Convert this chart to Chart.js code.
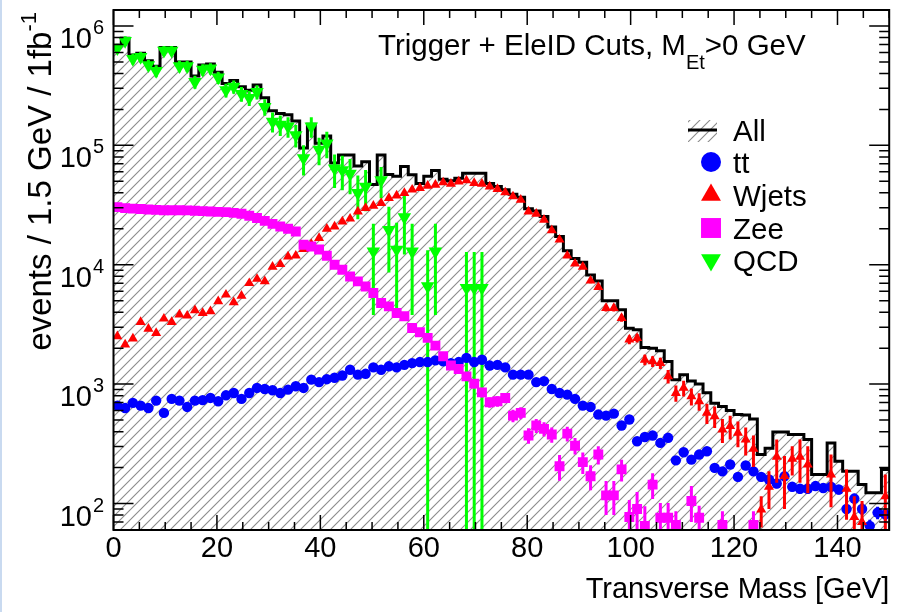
<!DOCTYPE html>
<html>
<head>
<meta charset="utf-8">
<script src="https://cdn.jsdelivr.net/npm/chart.js@4.4.1/dist/chart.umd.min.js"></script>
<style>
  html, body { margin: 0; padding: 0; background: #fff; }
  #wrap { width: 897px; height: 612px; }
</style>
</head>
<body>
<div id="wrap"><canvas id="c" width="897" height="612"></canvas></div>
<script>
// 100 bins of 1.5 GeV from 0 to 150 GeV
const binWidth = 1.5;
const xTickValues = [0, 20, 40, 60, 80, 100, 120, 140];
const yTickExponents = [2, 3, 4, 5, 6];

const allEvents = [
  690000, 790000, 570000, 590000, 510000, 460000, 660000, 660000, 500000, 500000,
  380000, 470000, 480000, 410000, 330000, 350000, 310000, 290000, 320000, 250000,
  195000, 185000, 180000, 160000, 95000, 150000, 104000, 120000, 71000, 83000,
  83000, 67000, 73000, 47000, 83000, 57000, 55000, 66500, 56700, 48000,
  55000, 61500, 52000, 50500, 53000, 58500, 58500, 58500, 48000, 45200,
  42400, 39000, 36800, 29500, 28200, 25300, 20700, 17200, 13100, 11300,
  10500, 8200, 7300, 5000, 5000, 4200, 2940, 2850, 2030, 2000,
  1900, 1550, 1090, 1200, 1060, 1000, 845, 690, 650, 600,
  556, 551, 510, 257, 290, 398, 398, 378, 378, 343,
  175, 175, 322, 226, 186, 186, 144, 123, 123, 193
];

const ttEvents = [
  661, 631, 696, 661, 631, 728, 574, 752, 728, 644,
  728, 734, 766, 718, 806, 843, 752, 843, 929, 911,
  888, 843, 899, 959, 929, 1090, 1040, 1100, 1130, 1180,
  1320, 1200, 1220, 1380, 1320, 1410, 1380, 1450, 1500, 1530,
  1530, 1580, 1550, 1500, 1530, 1660, 1530, 1600, 1430, 1450,
  1380, 1200, 1200, 1200, 1040, 1060, 911, 843, 817, 752,
  661, 644, 556, 545, 566, 450, 505, 332, 361, 371,
  322, 355, 230, 269, 233, 257, 274, 199, 186, 212,
  167, 208, 186, 167, 159, 147, 169, 138, 133, 133,
  140, 135, 138, 131, 90, 110, 90, 65, 84, 81
];
const ttErr = [
  0, 0, 0, 0, 0, 0, 0, 0, 0, 0,
  0, 0, 0, 0, 0, 0, 0, 0, 0, 0,
  0, 0, 0, 0, 0, 0, 0, 0, 0, 0,
  0, 0, 0, 0, 0, 0, 0, 0, 0, 0,
  0, 0, 0, 0, 0, 0, 0, 0, 0, 0,
  0, 0, 0, 0, 0, 0, 0, 0, 0, 0,
  30, 30, 28, 28, 28, 25, 26, 20, 21, 21,
  20, 21, 17, 18, 17, 18, 18, 16, 15, 16,
  14, 15, 14, 14, 13, 13, 14, 12, 12, 12,
  13, 12, 12, 12, 10, 11, 10, 8, 10, 9
];

const wjetsEvents = [
  2510, 2140, 2410, 3310, 2910, 2680, 3530, 3310, 3820, 3740,
  4150, 3940, 4070, 4930, 5610, 4840, 5500, 7000, 7600, 7250,
  9600, 10100, 11700, 11900, 13500, 14900, 16700, 20000, 20900, 23000,
  24300, 27900, 29800, 31200, 32800, 36100, 38000, 39800, 42500, 43900,
  45800, 46700, 48900, 47600, 49800, 50800, 48300, 47600, 45200, 43000,
  40300, 37300, 35000, 27900, 26700, 23800, 19400, 16200, 11900, 10200,
  9600, 7350, 6500, 4340, 4340, 3580, 2360, 2430, 1600, 1550,
  1500, 1160, 843, 929, 791, 718, 574, 538, 416, 444,
  391, 343, 287, 89, 138, 246, 170, 237, 246, 212,
  null, null, 175, null, 133, 77, 70, null, null, 115
];
const wjetsErr = [
  0, 0, 0, 0, 0, 0, 0, 0, 0, 0,
  0, 0, 0, 0, 0, 0, 0, 0, 0, 0,
  0, 0, 0, 0, 0, 0, 0, 0, 0, 0,
  0, 0, 0, 0, 0, 0, 0, 0, 0, 0,
  0, 0, 0, 0, 0, 0, 0, 0, 0, 0,
  0, 0, 0, 0, 0, 0, 0, 0, 0, 0,
  400, 350, 330, 280, 280, 250, 200, 200, 160, 160,
  160, 150, 130, 140, 130, 120, 110, 110, 95, 100,
  95, 90, 85, 26, 48, 97, 80, 65, 97, 90,
  0, 0, 82, 0, 60, 38, 35, 0, 0, 60
];

const zeeEvents = [
  30400, 29800, 29500, 29300, 29000, 28800, 28600, 28600, 28600, 28500,
  28300, 28100, 27900, 27700, 27600, 27200, 26700, 25700, 24600, 23300,
  22000, 20900, 20000, 19000, 14700, 14200, 13400, 11900, 10000, 9080,
  7980, 7250, 6580, 5790, 4780, 4480, 3940, 3700, 2950, 2720,
  2440, 2100, 1710, 1430, 1340, 1160, 1010, 853, 704, 718,
  766, 545, 574, 371, 450, 422, 378, 205, 385, 305,
  222, 169, 257, 117, 117, 193, 77, 90, 65, 144,
  76, 76, 66, null, 105, 76, null, null, 66, null,
  null, null, 66, null, null, null, null, null, null, null,
  null, null, null, null, null, null, null, null, null, null
];
const zeeErr = [
  0, 0, 0, 0, 0, 0, 0, 0, 0, 0,
  0, 0, 0, 0, 0, 0, 0, 0, 0, 0,
  0, 0, 0, 0, 0, 0, 0, 0, 0, 0,
  0, 0, 0, 0, 0, 0, 0, 0, 0, 0,
  150, 140, 120, 110, 105, 95, 90, 80, 70, 72,
  75, 65, 66, 55, 60, 58, 55, 50, 55, 48,
  45, 40, 45, 37, 37, 40, 30, 35, 30, 35,
  25, 25, 20, 0, 35, 20, 0, 0, 20, 0,
  0, 0, 20, 0, 0, 0, 0, 0, 0, 0,
  0, 0, 0, 0, 0, 0, 0, 0, 0, 0
];

const qcdEvents = [
  650000, 750000, 530000, 550000, 470000, 420000, 620000, 620000, 460000, 460000,
  340000, 430000, 440000, 370000, 290000, 310000, 270000, 250000, 280000, 210000,
  158000, 149000, 144000, 122000, 78000, 144000, 92000, 104000, 64000, 62000,
  58000, 40000, 45000, 12900, 51000, 19600, 13400, 25000, 12900, null,
  6600, 12900, null, null, null, 6400, 6400, 6400, null, null,
  null, null, null, null, null, null, null, null, null, null,
  null, null, null, null, null, null, null, null, null, null,
  null, null, null, null, null, null, null, null, null, null,
  null, null, null, null, null, null, null, null, null, null,
  null, null, null, null, null, null, null, null, null, null
];
const qcdErr = [
  60000, 70000, 55000, 55000, 50000, 48000, 58000, 58000, 50000, 50000,
  42000, 48000, 48000, 44000, 38000, 40000, 38000, 36000, 38000, 33000,
  30000, 29000, 28000, 26000, 22000, 28000, 24000, 26000, 20000, 20000,
  19000, 16000, 17000, 9100, 15000, 11000, 9100, 12800, 9100, 0,
  6600, 9100, 0, 0, 0, 6400, 6400, 6400, 0, 0
];

const binPoints = values => values.map((v, i) => ({ x: (i + 0.5) * binWidth, y: v }));
const stepPoints = values => values.map((v, i) => ({ x: i * binWidth, y: v }))
  .concat([{ x: values.length * binWidth, y: values[values.length - 1] }]);

const canvas = document.getElementById('c');
const ctx = canvas.getContext('2d');

// grey "///" hatching used for the summed histogram
const hatch = (() => {
  const tile = document.createElement('canvas');
  tile.width = 10; tile.height = 10;
  const g = tile.getContext('2d');
  g.strokeStyle = '#8c8c8c';
  g.lineWidth = 1.1;
  g.beginPath();
  g.moveTo(0, 10); g.lineTo(10, 0);
  g.moveTo(-5, 5); g.lineTo(5, -5);
  g.moveTo(5, 15); g.lineTo(15, 5);
  g.stroke();
  return ctx.createPattern(tile, 'repeat');
})();

const FONT = '"Liberation Sans", Arial, sans-serif';

function markerSet(label, values, errors, color, style, radius, rotation, order) {
  return {
    label: label,
    data: binPoints(values),
    errors: errors,
    showLine: false,
    pointStyle: style,
    pointRadius: radius,
    pointRotation: rotation,
    pointBackgroundColor: color,
    pointBorderColor: color,
    pointBorderWidth: 0,
    borderColor: color,
    backgroundColor: color,
    order: order
  };
}

// vertical error bars, drawn just before the markers of the same series
const errorBars = {
  id: 'errorBars',
  beforeDatasetDraw(chart, args) {
    const ds = chart.data.datasets[args.index];
    if (!ds.errors) return;
    const y = chart.scales.y;
    const area = chart.chartArea;
    const c = chart.ctx;
    c.save();
    c.beginPath();
    c.rect(area.left, area.top, area.right - area.left, area.bottom - area.top);
    c.clip();
    c.strokeStyle = ds.borderColor;
    c.lineWidth = 3;
    args.meta.data.forEach((pt, i) => {
      const v = ds.data[i].y;
      const e = ds.errors[i];
      if (v == null || !e) return;
      const top = y.getPixelForValue(v + e);
      const bot = v - e > y.min ? y.getPixelForValue(v - e) : area.bottom;
      c.beginPath();
      c.moveTo(pt.x, top);
      c.lineTo(pt.x, bot);
      c.stroke();
    });
    c.restore();
  }
};

// ROOT style frame, inward ticks, log labels, titles and legend
const rootFrame = {
  id: 'rootFrame',
  beforeDraw(chart) {
    const c = chart.ctx;
    c.save();
    c.fillStyle = '#c9daf0';
    c.fillRect(0, 0, 2, chart.height);
    c.restore();
  },
  afterDatasetsDraw(chart) {
    const c = chart.ctx;
    const a = chart.chartArea;
    const xs = chart.scales.x, ys = chart.scales.y;
    c.save();
    c.strokeStyle = '#000';
    c.lineWidth = 2;
    c.strokeRect(a.left, a.top, a.right - a.left, a.bottom - a.top);

    c.lineWidth = 1.5;
    c.beginPath();
    for (let v = 0; v <= 150; v += 5) {
      const px = xs.getPixelForValue(v);
      const len = v % 20 === 0 ? 15 : 8;
      c.moveTo(px, a.bottom); c.lineTo(px, a.bottom - len);
      c.moveTo(px, a.top); c.lineTo(px, a.top + len);
    }
    for (let e = 1; e <= 6; e++) {
      for (let m = 1; m <= 9; m++) {
        const v = m * Math.pow(10, e);
        if (v < ys.min || v > ys.max) continue;
        const py = ys.getPixelForValue(v);
        const len = m === 1 ? 20 : 10;
        c.moveTo(a.left, py); c.lineTo(a.left + len, py);
        c.moveTo(a.right, py); c.lineTo(a.right - len, py);
      }
    }
    c.stroke();
    c.restore();
  },
  afterDraw(chart) {
    const c = chart.ctx;
    const ys = chart.scales.y;
    c.save();
    c.fillStyle = '#000';

    // y tick labels 10^n
    yTickExponents.forEach(n => {
      const py = ys.getPixelForValue(Math.pow(10, n));
      c.font = '29px ' + FONT;
      c.textAlign = 'right';
      c.textBaseline = 'alphabetic';
      c.fillText('10', 92, py + 22);
      c.font = '20px ' + FONT;
      c.textAlign = 'left';
      c.fillText(String(n), 93, py + 8);
    });

    // y title with superscript
    c.save();
    c.translate(51, 12);
    c.rotate(-Math.PI / 2);
    c.textAlign = 'right';
    c.textBaseline = 'alphabetic';
    c.font = '22px ' + FONT;
    const sup = '-1';
    const supW = c.measureText(sup).width;
    c.fillText(sup, 0, -15);
    c.font = '33px ' + FONT;
    c.fillText('events / 1.5 GeV / 1fb', -supW, 0);
    c.restore();

    // header text with subscript
    c.textAlign = 'left';
    c.textBaseline = 'alphabetic';
    let hx = 378;
    c.font = '29.5px ' + FONT;
    const head1 = 'Trigger + EleID Cuts, M';
    c.fillText(head1, hx, 55);
    hx += c.measureText(head1).width;
    c.font = '20px ' + FONT;
    c.fillText('Et', hx, 69);
    hx += c.measureText('Et').width;
    c.font = '29.5px ' + FONT;
    c.fillText('>0 GeV', hx, 55);

    // legend
    const lx = 711, tx = 733;
    const rows = [130, 162, 195, 228, 260];
    c.save();
    c.beginPath();
    c.rect(688, 120, 29, 22);
    c.clip();
    c.fillStyle = hatch;
    c.fillRect(688, 120, 29, 22);
    c.restore();
    c.strokeStyle = '#000';
    c.lineWidth = 3;
    c.beginPath();
    c.moveTo(688, rows[0]); c.lineTo(717, rows[0]);
    c.stroke();
    const legendMarks = [
      null,
      { ds: 1, pointStyle: 'circle', radius: 10, rotation: 0 },
      { ds: 2, pointStyle: 'triangle', radius: 11.5, rotation: 0 },
      { ds: 3, pointStyle: 'rect', radius: 14.1, rotation: 0 },
      { ds: 4, pointStyle: 'triangle', radius: 11.5, rotation: 180 }
    ];
    legendMarks.forEach((m, i) => {
      if (!m) return;
      c.fillStyle = chart.data.datasets[m.ds].borderColor;
      Chart.helpers.drawPoint(c, { pointStyle: m.pointStyle, radius: m.radius, rotation: m.rotation, borderWidth: 0 }, lx, rows[i]);
    });
    c.fillStyle = '#000';
    c.font = '29.5px ' + FONT;
    chart.data.datasets.forEach((ds, i) => {
      c.fillText(ds.label, tx, rows[i] + 11);
    });
    c.restore();
  }
};

new Chart(ctx, {
  type: 'line',
  data: {
    datasets: [
      {
        label: 'All',
        data: stepPoints(allEvents),
        stepped: true,
        borderColor: '#000',
        borderWidth: 3,
        backgroundColor: hatch,
        fill: 'start',
        pointRadius: 0,
        order: 10
      },
      markerSet('tt', ttEvents, ttErr, '#0000ff', 'circle', 5.2, 0, 3),
      markerSet('Wjets', wjetsEvents, wjetsErr, '#ff0000', 'triangle', 5.8, 0, 2),
      markerSet('Zee', zeeEvents, zeeErr, '#ff00ff', 'rect', 7, 0, 1),
      markerSet('QCD', qcdEvents, qcdErr, '#00ff00', 'triangle', 7.8, 180, 4)
    ]
  },
  options: {
    responsive: false,
    animation: false,
    devicePixelRatio: 1,
    layout: { padding: { left: 0, right: 4, top: 10, bottom: 0 } },
    plugins: {
      legend: { display: false },
      tooltip: { enabled: false }
    },
    scales: {
      x: {
        type: 'linear',
        min: 0,
        max: 150,
        grid: { display: false, drawTicks: false },
        border: { display: false },
        afterBuildTicks: s => { s.ticks = xTickValues.map(v => ({ value: v })); },
        afterFit: s => { s.height = 82; },
        ticks: {
          color: '#000',
          font: { family: FONT, size: 29 },
          padding: 2,
          maxRotation: 0,
          autoSkip: false
        },
        title: {
          display: true,
          text: 'Transverse Mass [GeV]',
          align: 'end',
          color: '#000',
          font: { family: FONT, size: 29 },
          padding: { top: 0, bottom: 5 }
        }
      },
      y: {
        type: 'logarithmic',
        min: 60,
        max: 1.36e6,
        grid: { display: false, drawTicks: false },
        border: { display: false },
        ticks: { display: false },
        afterFit: s => { s.width = 113.5; }
      }
    }
  },
  plugins: [errorBars, rootFrame]
});
</script>
</body>
</html>
